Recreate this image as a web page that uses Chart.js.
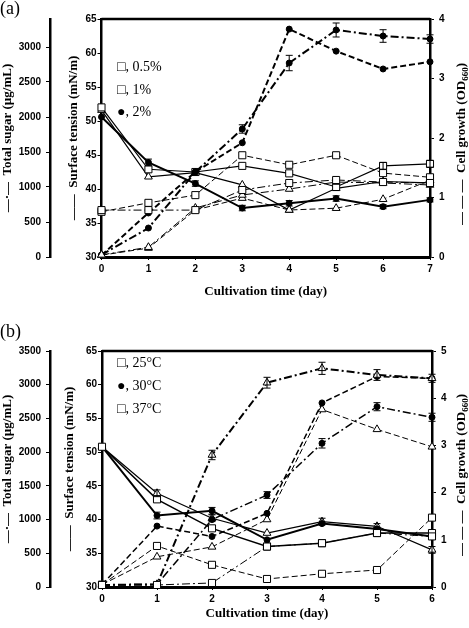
<!DOCTYPE html>
<html>
<head>
<meta charset="utf-8">
<script src="https://cdn.jsdelivr.net/npm/chart.js@4.4.0/dist/chart.umd.min.js"></script>
<style>
  body { margin: 0; background: #fff; }
  #wrap { position: relative; width: 469px; height: 628px; overflow: hidden; }
  canvas { position: absolute; left: 0; }
  .lbl { position: absolute; font-family: "Liberation Serif", "Times New Roman", serif; color: #000; white-space: nowrap; }
  .leg { font-size: 14px; line-height: 16px; }
</style>
</head>
<body>
<div id="wrap">
  <canvas id="chartA" width="469" height="310" style="top:0"></canvas>
  <canvas id="chartB" width="469" height="318" style="top:310px"></canvas>
  <div class="lbl" style="left:0;top:-2px;font-size:18px">(a)</div>
  <div class="lbl" style="left:0;top:321px;font-size:18px">(b)</div>
  <div class="lbl leg" style="left:117px;top:59px">□, 0.5%</div>
  <div class="lbl leg" style="left:117px;top:82px">□, 1%</div>
  <div class="lbl leg" style="left:117px;top:104px">●, 2%</div>
  <div class="lbl leg" style="left:117px;top:355px">□, 25°C</div>
  <div class="lbl leg" style="left:117px;top:378px">●, 30°C</div>
  <div class="lbl leg" style="left:117px;top:401px">□, 37°C</div>
</div>
<script>
// (a) glucose concentration, days 0-7
const daysA = ['0', '1', '2', '3', '4', '5', '6', '7'];
const tensionA05 = [52.0, 42.9, 42.5, 43.4, 42.3, 40.3, 43.4, 43.7];
const tensionA1 = [51.6, 41.8, 42.4, 40.6, 36.9, 40.1, 41.1, 40.9];
const tensionA2 = [50.6, 43.9, 40.8, 37.2, 37.9, 38.6, 37.4, 38.4];
const growthA05 = [0.76, 0.91, 1.04, 1.71, 1.55, 1.71, 1.41, 1.34];
const growthA1 = [0.03, 0.15, 0.79, 0.99, 0.79, 0.82, 0.97, 1.29];
const growthA2 = [0.03, 0.74, 1.43, 1.92, 3.83, 3.46, 3.16, 3.28];
const sugarA05 = [670, 670, 670, 957, 1057, 1100, 1071, 1057];
const sugarA1 = [30, 140, 700, 886, 971, 1071, 1057, 1029];
const sugarA2 = [30, 414, 1214, 1829, 2771, 3243, 3157, 3114];
const sugarA2Err = [0, 0, 0, 60, 110, 100, 90, 60];
const tensionA2Err = [0, 0.5, 0.4, 0.4, 0.4, 0.4, 0.3, 0.3];
const tensionA05Err = [0, 0, 0, 0, 0, 0, 0.5, 0.5];
const sugarTicksA = [0, 500, 1000, 1500, 2000, 2500, 3000];

// (b) temperature, days 0-6
const daysB = ['0', '1', '2', '3', '4', '5', '6'];
const tensionB25 = [50.8, 43.0, 38.7, 36.0, 36.5, 38.0, 38.0];
const tensionB30 = [50.8, 40.6, 41.3, 37.0, 39.4, 38.6, 37.5];
const tensionB37 = [50.8, 43.9, 40.2, 38.0, 39.7, 39.0, 35.5];
const growthB25 = [0.05, 0.87, 0.47, 0.17, 0.28, 0.36, 1.47];
const growthB30 = [0.05, 1.29, 1.07, 1.56, 3.90, 4.46, 4.42];
const growthB37 = [0.05, 0.64, 0.85, 1.43, 3.76, 3.34, 2.97];
const sugarB25 = [30, 30, 60, 600, 650, 800, 750];
const sugarB30 = [30, 40, 1000, 1364, 2131, 2674, 2517];
const sugarB37 = [30, 40, 1958, 3030, 3243, 3144, 3095];
const sugarB37Err = [0, 0, 70, 80, 90, 80, 60];
const sugarB30Err = [0, 0, 0, 50, 70, 60, 60];
const tensionB30Err = [0, 0.5, 0.5, 0, 0, 0, 0];
const tensionB37Err = [0, 0.5, 0.5, 0, 0.5, 0.4, 0.5];
const sugarTicksB = [0, 500, 1000, 1500, 2000, 2500, 3000, 3500];

const tickFont = { family: '"Liberation Sans", Arial, sans-serif', weight: 'bold', size: 10 };
const titleFont = { family: '"Liberation Serif", "Times New Roman", serif', weight: 'bold', size: 13 };

const dashes = { solid: [], dash: [6, 3], dashdot: [8, 3, 2, 3] };
const markers = {
    square: { pointStyle: 'rect', pointRadius: 5, pointBackgroundColor: '#fff' },
    triangle: { pointStyle: 'triangle', pointRadius: 4.5, pointBackgroundColor: '#fff' },
    circle: { pointStyle: 'circle', pointRadius: 3, pointBackgroundColor: '#000' }
};

function line(data, axis, dash, marker, width, errors) {
    return Object.assign({
        data: data,
        yAxisID: axis,
        borderColor: '#000',
        borderWidth: width,
        borderDash: dashes[dash],
        pointBorderColor: '#000',
        pointBorderWidth: 1,
        tension: 0,
        clip: false,
        errors: errors
    }, markers[marker]);
}

// vertical error bars from dataset.errors
const errorBars = {
    id: 'errorBars',
    afterDatasetsDraw(chart) {
        const ctx = chart.ctx;
        chart.data.datasets.forEach((ds, i) => {
            if (!ds.errors) return;
            const meta = chart.getDatasetMeta(i);
            const scale = chart.scales[ds.yAxisID];
            ctx.save();
            ctx.strokeStyle = '#000';
            ctx.lineWidth = 1;
            meta.data.forEach((pt, j) => {
                const e = ds.errors[j];
                if (!e) return;
                const y1 = scale.getPixelForValue(ds.data[j] - e);
                const y2 = scale.getPixelForValue(ds.data[j] + e);
                ctx.beginPath();
                ctx.moveTo(pt.x, y1); ctx.lineTo(pt.x, y2);
                ctx.moveTo(pt.x - 3.5, y1); ctx.lineTo(pt.x + 3.5, y1);
                ctx.moveTo(pt.x - 3.5, y2); ctx.lineTo(pt.x + 3.5, y2);
                ctx.stroke();
            });
            ctx.restore();
        });
    }
};

// top frame line + right axis title reading bottom to top
const sideTitle = {
    id: 'sideTitle',
    afterDraw(chart, args, opts) {
        const { ctx, chartArea: a } = chart;
        ctx.save();
        ctx.strokeStyle = '#000';
        ctx.lineWidth = 2.5;
        ctx.beginPath();
        ctx.moveTo(a.left, a.top);
        ctx.lineTo(a.right, a.top);
        ctx.stroke();

        ctx.translate(opts.x, (a.top + a.bottom) / 2 + opts.dy);
        ctx.rotate(-Math.PI / 2);
        ctx.fillStyle = '#000';
        ctx.textBaseline = 'middle';
        const big = 'bold 13px "Liberation Serif", serif';
        const small = 'bold 9px "Liberation Serif", serif';
        ctx.font = big;
        const w1 = ctx.measureText(opts.text).width;
        const w3 = ctx.measureText(')').width;
        ctx.font = small;
        const w2 = ctx.measureText(opts.sub).width;
        let x = -(w1 + w2 + w3) / 2;
        ctx.font = big;
        ctx.fillText(opts.text, x, 0);
        x += w1;
        ctx.font = small;
        ctx.fillText(opts.sub, x, 4);
        x += w2;
        ctx.font = big;
        ctx.fillText(')', x, 0);
        ctx.restore();
    }
};

function yAxis(pos, min, max, step, width, weight, title, titlePad, tickPad, tickValues) {
    const axis = {
        position: pos,
        min: min,
        max: max,
        weight: weight,
        grid: { display: true, drawOnChartArea: false, drawTicks: true, tickLength: 4, color: '#000' },
        border: { display: true, color: '#000', width: 2.5 },
        ticks: { stepSize: step, includeBounds: false, font: tickFont, color: '#000', padding: tickPad, callback: (v) => String(v) },
        title: title ? { display: true, text: title, font: titleFont, color: '#000', padding: { top: titlePad, bottom: 0 } } : { display: false },
        afterFit: (s) => { s.width = width; }
    };
    if (tickValues) {
        axis.afterBuildTicks = (s) => { s.ticks = tickValues.map(v => ({ value: v })); };
    }
    return axis;
}

function makeChart(id, cfg) {
    return new Chart(document.getElementById(id), {
        type: 'line',
        data: { labels: cfg.days, datasets: cfg.datasets },
        options: {
            responsive: false,
            animation: false,
            devicePixelRatio: 1,
            layout: { padding: { top: cfg.top, left: 0, right: 0, bottom: 0 } },
            plugins: {
                legend: { display: false },
                tooltip: { enabled: false },
                sideTitle: { x: 462, dy: 6, text: '— — —  Cell growth (OD', sub: '660' }
            },
            scales: {
                x: {
                    grid: { display: true, drawOnChartArea: false, tickLength: 3, color: '#000' },
                    border: { display: true, color: '#000', width: 3 },
                    ticks: { font: tickFont, color: '#000', padding: 3, maxRotation: 0 },
                    title: { display: true, text: 'Cultivation time (day)', font: titleFont, color: '#000', padding: { top: 2, bottom: cfg.xTitlePad } },
                    afterFit: (s) => { s.height = cfg.xHeight; }
                },
                yTension: yAxis('left', 30, 65, 5, cfg.tensionWidth, 0, '——  Surface tension (mN/m)', cfg.tensionPad, 1),
                ySugar: yAxis('left', 0, cfg.sugarMax, 500, 50, 1, '—·—  Total sugar (µg/mL)', 0, 5, cfg.sugarTicks),
                yGrowth: yAxis('right', 0, cfg.growthMax, 1, cfg.growthWidth, 0, null, 0, 5)
            }
        },
        plugins: [errorBars, sideTitle]
    });
}

makeChart('chartA', {
    days: daysA,
    top: 19,
    xHeight: 53,
    xTitlePad: 11,
    tensionWidth: 51.5,
    tensionPad: 16,
    growthWidth: 39,
    sugarMax: 3400,
    sugarTicks: sugarTicksA,
    growthMax: 4,
    datasets: [
        line(sugarA05, 'ySugar', 'dashdot', 'square', 1),
        line(sugarA1, 'ySugar', 'dashdot', 'triangle', 1),
        line(sugarA2, 'ySugar', 'dashdot', 'circle', 2, sugarA2Err),
        line(growthA05, 'yGrowth', 'dash', 'square', 1),
        line(growthA1, 'yGrowth', 'dash', 'triangle', 1),
        line(growthA2, 'yGrowth', 'dash', 'circle', 2),
        line(tensionA05, 'yTension', 'solid', 'square', 1.2, tensionA05Err),
        line(tensionA1, 'yTension', 'solid', 'triangle', 1.2),
        line(tensionA2, 'yTension', 'solid', 'circle', 2, tensionA2Err)
    ]
});

makeChart('chartB', {
    days: daysB,
    top: 41,
    xHeight: 41,
    xTitlePad: 7,
    tensionWidth: 52,
    tensionPad: 12,
    growthWidth: 37,
    sugarMax: 3500,
    sugarTicks: sugarTicksB,
    growthMax: 5,
    datasets: [
        line(sugarB25, 'ySugar', 'dashdot', 'square', 1),
        line(sugarB30, 'ySugar', 'dashdot', 'circle', 1.5, sugarB30Err),
        line(sugarB37, 'ySugar', 'dashdot', 'triangle', 2, sugarB37Err),
        line(growthB25, 'yGrowth', 'dash', 'square', 1),
        line(growthB30, 'yGrowth', 'dash', 'circle', 1.5),
        line(growthB37, 'yGrowth', 'dash', 'triangle', 1),
        line(tensionB25, 'yTension', 'solid', 'square', 1.5),
        line(tensionB30, 'yTension', 'solid', 'circle', 2, tensionB30Err),
        line(tensionB37, 'yTension', 'solid', 'triangle', 1.2, tensionB37Err)
    ]
});
</script>
</body>
</html>
